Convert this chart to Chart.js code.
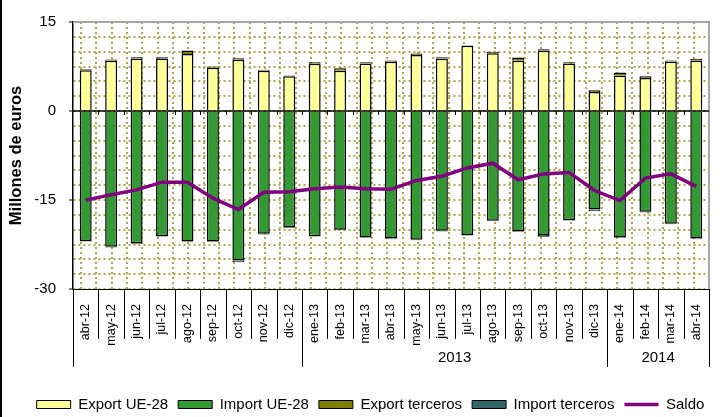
<!DOCTYPE html>
<html>
<head>
<meta charset="utf-8">
<script src="https://cdn.jsdelivr.net/npm/chart.js@4.4.0/dist/chart.umd.min.js"></script>
<style>
    html, body { margin: 0; padding: 0; background: #fff; }
    #wrap { position: relative; width: 725px; height: 417px; }
    #borde { position: absolute; left: 0; top: 0; width: 2px; height: 417px; background: #000; }
</style>
</head>
<body>
<div id="wrap">
    <canvas id="grafico" width="725" height="417"></canvas>
    <div id="borde"></div>
</div>
<script>
// DATOS DEL GRAFICO (millones de euros)
const meses = ['abr-12', 'may-12', 'jun-12', 'jul-12', 'ago-12', 'sep-12', 'oct-12', 'nov-12', 'dic-12',
    'ene-13', 'feb-13', 'mar-13', 'abr-13', 'may-13', 'jun-13', 'jul-13', 'ago-13', 'sep-13', 'oct-13', 'nov-13', 'dic-13',
    'ene-14', 'feb-14', 'mar-14', 'abr-14'];
const anios = ['', '2013', '2014'];
const mesesPorAnio = [9, 12, 4];

const exportUE = [6.85, 8.45, 8.85, 8.85, 9.6, 7.3, 8.65, 6.8, 5.85, 7.95, 6.8, 8.0, 8.3, 9.45, 8.85, 11.0, 9.75, 8.45, 10.2, 8.0, 3.2, 6.0, 5.55, 8.3, 8.5];
const importUE = [-21.9, -22.9, -22.3, -21.1, -22.0, -22.0, -25.2, -20.7, -19.6, -21.1, -20.0, -21.3, -21.5, -21.7, -20.2, -20.9, -18.5, -20.3, -20.9, -18.4, -16.6, -21.3, -17.0, -19.0, -21.5];
const exportTerceros = [0.2, 0.25, 0.2, 0.2, 0.6, 0.2, 0.25, 0.15, 0.15, 0.25, 0.4, 0.2, 0.2, 0.25, 0.2, 0.1, 0.25, 0.55, 0.2, 0.2, 0.3, 0.5, 0.3, 0.2, 0.3];
const importTerceros = [-0.1, -0.1, -0.1, -0.1, -0.1, -0.1, -0.3, -0.1, -0.1, -0.1, -0.1, -0.1, -0.1, -0.1, -0.1, -0.1, -0.1, -0.1, -0.3, -0.1, -0.3, -0.1, -0.1, -0.1, -0.1];
const saldo = [-15.05, -14.1, -13.3, -12.0, -12.0, -14.7, -16.6, -13.7, -13.6, -13.1, -12.8, -13.1, -13.2, -11.7, -11.0, -9.6, -8.8, -11.6, -10.6, -10.35, -13.4, -15.1, -11.3, -10.6, -12.7];

const yMin = -30;
const yMax = 15;
const yEtiquetas = [15, 0, -15, -30];

const FUENTE = "'Liberation Sans', Arial, sans-serif";
const PUNTEADO = '#a9a94c';

// PLUGIN: BORDES, LINEA DE CERO, SEPARADORES Y AÑOS DEL EJE X
const decoracion = {
    id: 'decoracion',
    afterLayout(chart) {
        // mueve la leyenda un poco a la derecha y hacia abajo
        const l = chart.legend;
        l.left += 16; l.right += 16;
        l.top += 5; l.bottom += 5;
    },
    afterDatasetsDraw(chart) {
        const { ctx, chartArea: a } = chart;
        const x = chart.scales.x;
        const y = chart.scales.y;
        const ancho = x.getPixelForValue(1) - x.getPixelForValue(0);
        const x0 = x.getPixelForValue(0) - ancho / 2;
        const y0 = y.getPixelForValue(0);

        ctx.save();
        // borde gris superior y derecho
        ctx.strokeStyle = '#a6a6a6';
        ctx.lineWidth = 2;
        ctx.beginPath();
        ctx.moveTo(a.left, a.top);
        ctx.lineTo(a.right, a.top);
        ctx.lineTo(a.right, a.bottom);
        ctx.stroke();

        // linea de cero con marcas
        ctx.strokeStyle = '#000';
        ctx.lineWidth = 1.5;
        ctx.beginPath();
        ctx.moveTo(a.left, y0);
        ctx.lineTo(a.right, y0);
        ctx.stroke();
        ctx.lineWidth = 1;
        for (let k = 1; k < meses.length; k++) {
            const bx = Math.round(x0 + k * ancho) + 0.5;
            ctx.beginPath();
            ctx.moveTo(bx, y0);
            ctx.lineTo(bx, y0 + 4);
            ctx.stroke();
        }
        ctx.restore();
    },
    afterDraw(chart) {
        const { ctx, chartArea: a } = chart;
        const x = chart.scales.x;
        const ancho = x.getPixelForValue(1) - x.getPixelForValue(0);
        const x0 = x.getPixelForValue(0) - ancho / 2;

        const limites = [0];
        mesesPorAnio.forEach(n => limites.push(limites[limites.length - 1] + n));

        ctx.save();
        ctx.strokeStyle = '#000';
        ctx.lineWidth = 1;
        for (let k = 0; k <= meses.length; k++) {
            const bx = Math.round(x0 + k * ancho) + 0.5;
            const largo = limites.includes(k) ? 78 : 50;
            ctx.beginPath();
            ctx.moveTo(bx, a.bottom);
            ctx.lineTo(bx, a.bottom + largo);
            ctx.stroke();
        }

        ctx.fillStyle = '#000';
        ctx.font = '15px ' + FUENTE;
        ctx.textAlign = 'center';
        ctx.textBaseline = 'middle';
        anios.forEach((anio, i) => {
            const cx = x0 + (limites[i] + limites[i + 1]) / 2 * ancho;
            ctx.fillText(anio, cx, a.bottom + 69);
        });
        ctx.restore();
    }
};

const ordenLeyenda = ['rect', 'rect', 'rect', 'rect', 'line'];

new Chart(document.getElementById('grafico'), {
    data: {
        labels: meses,
        datasets: [
            { type: 'bar', label: 'Export UE-28', data: exportUE, backgroundColor: '#ffff99', borderColor: '#000', borderWidth: 1.5, order: 1 },
            { type: 'bar', label: 'Import UE-28', data: importUE, backgroundColor: '#339933', borderColor: '#000', borderWidth: 1.5, order: 1 },
            { type: 'bar', label: 'Export terceros', data: exportTerceros, backgroundColor: '#808000', borderColor: '#000', borderWidth: 1.5, order: 1 },
            { type: 'bar', label: 'Import terceros', data: importTerceros, backgroundColor: '#336666', borderColor: '#000', borderWidth: 1.5, order: 1 },
            { type: 'line', label: 'Saldo', data: saldo, borderColor: '#800080', backgroundColor: '#800080', borderWidth: 3.5,
              pointRadius: 0, tension: 0, stack: 'saldo', order: 0 }
        ]
    },
    options: {
        responsive: false,
        animation: false,
        layout: { padding: { top: 20, right: 16, left: 0, bottom: 0 } },
        datasets: { bar: { barPercentage: 0.47, categoryPercentage: 1 } },
        plugins: {
            tooltip: { enabled: false },
            legend: {
                position: 'bottom',
                labels: {
                    usePointStyle: true,
                    pointStyleWidth: 34,
                    boxHeight: 8,
                    padding: 10,
                    color: '#000',
                    font: { size: 15, family: FUENTE },
                    generateLabels(chart) {
                        const items = Chart.defaults.plugins.legend.labels.generateLabels(chart);
                        items.sort((p, q) => p.datasetIndex - q.datasetIndex);
                        items.forEach(it => { it.pointStyle = ordenLeyenda[it.datasetIndex]; it.lineWidth = it.datasetIndex === 4 ? 3.5 : 1; });
                        return items;
                    }
                }
            }
        },
        scales: {
            x: {
                type: 'category',
                stacked: true,
                offset: true,
                grid: { display: false },
                border: { display: true, color: '#000', width: 1 },
                ticks: {
                    color: '#000',
                    font: { size: 12.5, family: FUENTE },
                    minRotation: 90,
                    maxRotation: 90,
                    autoSkip: false,
                    padding: 7
                },
                afterFit(scale) { scale.height = 93; }
            },
            x2: {
                type: 'linear',
                position: 'top',
                reverse: true,
                min: 0,
                max: 41.53,
                afterBuildTicks(scale) {
                    const t = [];
                    for (let k = 0; k <= 41; k++) t.push({ value: k });
                    scale.ticks = t;
                },
                ticks: { display: false },
                grid: { color: PUNTEADO, lineWidth: 2, drawTicks: false },
                border: { display: false, dash: [2, 3] }
            },
            y: {
                type: 'linear',
                stacked: true,
                min: yMin,
                max: yMax,
                afterBuildTicks(scale) {
                    const t = [];
                    for (let v = yMin; v <= yMax; v += 2.5) t.push({ value: v });
                    scale.ticks = t;
                },
                ticks: {
                    autoSkip: false,
                    color: '#000',
                    padding: 13,
                    font: { size: 15, family: FUENTE },
                    callback: v => yEtiquetas.includes(v) ? String(v) : ''
                },
                grid: {
                    color: PUNTEADO,
                    lineWidth: 2,
                    tickLength: 4,
                    tickWidth: 1,
                    tickColor: c => yEtiquetas.includes(c.tick.value) ? '#000' : 'rgba(0,0,0,0)'
                },
                border: { display: true, color: '#000', width: 1.5, dash: [2, 3] },
                title: {
                    display: true,
                    text: 'Millones de euros',
                    color: '#000',
                    font: { size: 16.5, weight: 'bold', family: FUENTE },
                    padding: { top: 7, bottom: 0 }
                },
                afterFit(scale) { scale.width = 73; }
            }
        }
    },
    plugins: [decoracion]
});
</script>
</body>
</html>
